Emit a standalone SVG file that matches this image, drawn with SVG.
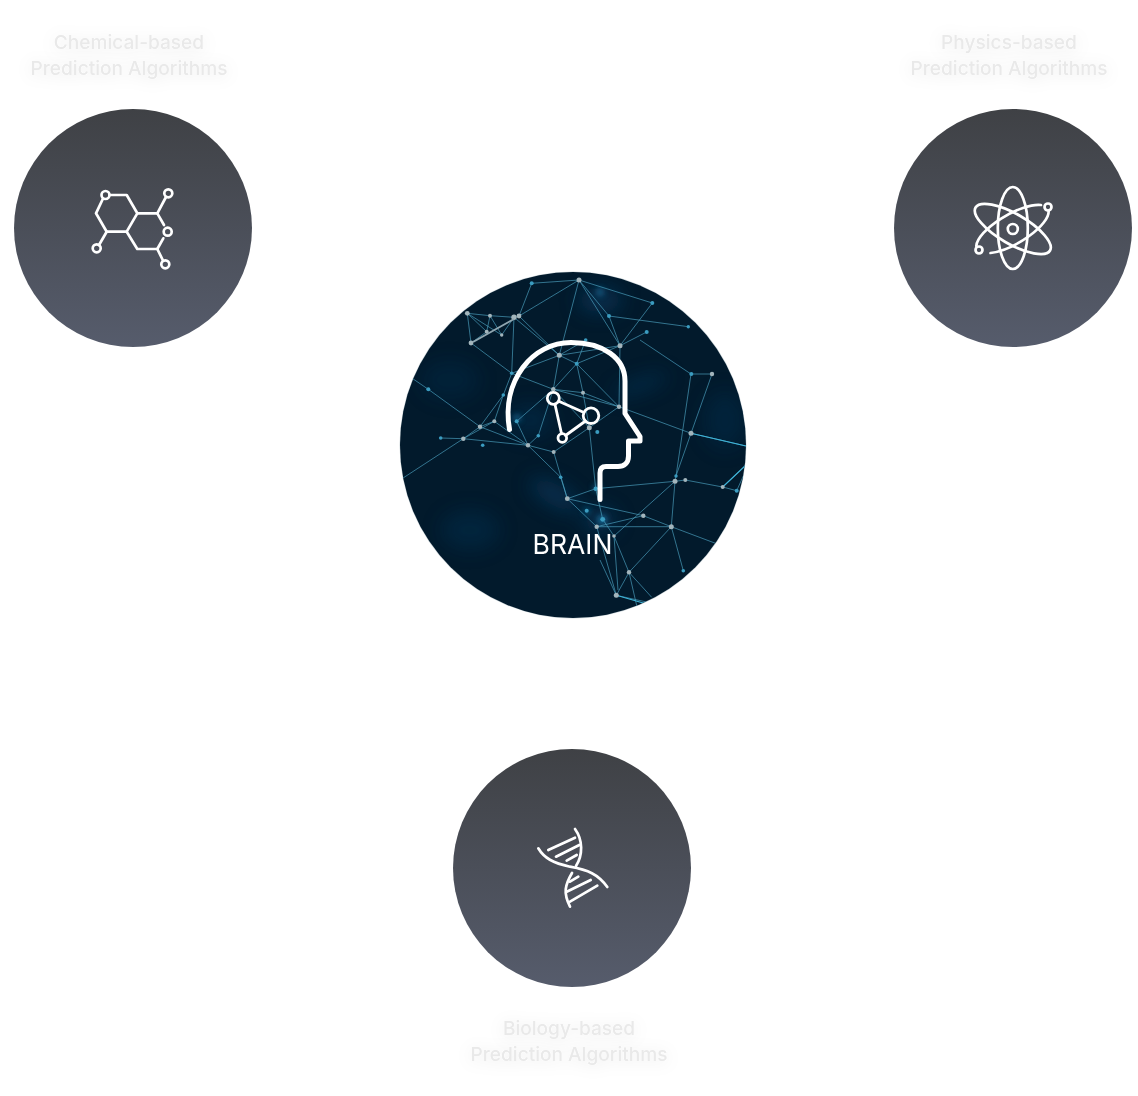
<svg xmlns="http://www.w3.org/2000/svg" width="1138" height="1096" viewBox="0 0 1138 1096">
<style>
.label{font-family:Inter,"Liberation Sans",sans-serif;font-size:19.1px;font-weight:500;fill:#e9e9e9;text-anchor:middle;filter:url(#halo)}
.icon{fill:none;stroke:#fff;stroke-width:2.7;stroke-linecap:round;stroke-linejoin:round}
.net{fill:none;stroke:#4fa6c4;stroke-width:.9;stroke-opacity:.72}
.dot{fill:#a3b5bc}
.dotb{fill:#3a9cc0}
</style>
<defs>
<linearGradient id="g" x1="0" y1="0" x2="0" y2="1"><stop offset="0" stop-color="#3f4145"/><stop offset="1" stop-color="#565c6c"/></linearGradient>
<filter id="halo" x="-25%" y="-80%" width="150%" height="260%"><feDropShadow dx="0" dy="2" stdDeviation="8" flood-color="#000" flood-opacity=".1"/></filter>
<filter id="b12" x="-50%" y="-50%" width="200%" height="200%"><feGaussianBlur stdDeviation="10"/></filter>
<filter id="b3" x="-100%" y="-100%" width="300%" height="300%"><feGaussianBlur stdDeviation="3"/></filter>
<filter id="b05"><feGaussianBlur stdDeviation=".3"/></filter>
<clipPath id="cc"><circle cx="573" cy="445" r="173"/></clipPath>
</defs>

<g id="connectors"></g>

<g id="node-chemical">
<circle cx="133" cy="228" r="119" fill="url(#g)"/>
<g class="icon">
<circle cx="105.500" cy="195" r="4"/><circle cx="168.300" cy="193.300" r="4"/><circle cx="167.700" cy="231.700" r="4"/><circle cx="165.300" cy="264.300" r="4"/><circle cx="96.700" cy="248.300" r="4"/>
<path d="M109.500 195H126.700L137.300 213.300L126.700 231.700H106.700L96 213.300L102.800 199"/>
<path d="M137.300 213.300H157.300L164 225M163.300 238.300L157.300 249H137.300L126.700 231.700"/>
<path d="M157.300 213.300L166 197"/><path d="M157.300 249L163 260.500"/><path d="M106.700 231.700L99 245"/>
</g>
<text class="label" x="129" y="49">Chemical-based</text>
<text class="label" x="129" y="75">Prediction Algorithms</text>
</g>

<g id="node-physics">
<circle cx="1013" cy="228" r="119" fill="url(#g)"/>
<g class="icon">
<circle cx="1012.800" cy="229" r="5"/>
<ellipse cx="1012.800" cy="228" rx="15" ry="41"/>
<ellipse cx="1012.800" cy="229" rx="43" ry="15" transform="rotate(30 1012.800 229)"/>
<path d="M1041 205A41 15 -30 0 0 976.300 246M1048.600 211A41 15 -30 0 1 990.500 253"/>
<circle cx="1048" cy="207" r="3.500"/><circle cx="979" cy="250" r="3.500"/>
</g>
<text class="label" x="1009" y="49">Physics-based</text>
<text class="label" x="1009" y="75">Prediction Algorithms</text>
</g>

<g id="node-biology">
<circle cx="572" cy="868" r="119" fill="url(#g)"/>
<g class="icon">
<path d="M538.300 848.300C544 858 553 863 570 866.700C588 870 598 874 607.300 887"/>
<path d="M575 829C583 840 583 855 576 866"/>
<path d="M572 873C565 885 563 893 570 906.700"/>
<path d="M548.300 850L575 837.700M556 856.700L579.300 845M566.700 860.700L576.700 855"/>
<path d="M570 881.700L578.300 876.700M566.700 891.700L590.700 880M570 901.700L597.300 885.700"/>
</g>
<text class="label" x="569" y="1035">Biology-based</text>
<text class="label" x="569" y="1061">Prediction Algorithms</text>
</g>

<g id="node-brain">
<circle cx="573" cy="445" r="173.500" fill="#cfd8dc"/>
<g clip-path="url(#cc)">
<rect x="395" y="267" width="356" height="356" fill="#021a2c"/>
<g filter="url(#b12)" fill="#0a4470" opacity=".55">
<ellipse cx="470" cy="530" rx="30" ry="20" opacity=".45"/>
<ellipse cx="555" cy="495" rx="28" ry="10" transform="rotate(30 555 495)"/>
<ellipse cx="640" cy="385" rx="30" ry="5" transform="rotate(-20 640 385)"/>
<ellipse cx="600" cy="300" rx="22" ry="12"/>
<ellipse cx="450" cy="380" rx="30" ry="20" opacity=".35"/>
<ellipse cx="725" cy="420" rx="22" ry="30" opacity=".4"/>
<ellipse cx="600" cy="520" rx="16" ry="12"/>
<ellipse cx="530" cy="420" rx="24" ry="16" opacity=".5"/>
</g>
<g filter="url(#b3)" fill="#1d7fb0">
<circle cx="602" cy="520" r="4"/><circle cx="600" cy="292" r="3"/><circle cx="517" cy="418" r="3"/>
<circle cx="597" cy="488" r="3"/><circle cx="587" cy="511" r="2.500"/>
</g>
<g filter="url(#b05)">
<path class="net" d="M467.300 313.300L490 315.700L514 317.300L519 316L579 280L652.300 303L620 345.700L579 280L559.300 355.300L514 317.300L511.700 373.300L471 343L467.300 313.300L501.700 335L514 317.300M467.300 313.300L486.700 331.700L490 315.700L501.700 335M471 343L486.700 331.700M519 316L559.300 355.300L620 345.700L609 316L579 280M531.700 283.300L519 316M531.700 283.300L579 280M559.300 355.300L553.300 389.300L576.700 363.700L559.300 355.300L511.700 373.300L553.300 389.300L583 392.700L619 406.700L576.700 363.700L620 345.700L646.700 332M585.700 340L559.300 355.300M585.700 340L576.700 363.700L583 392.700L589.300 427.700L619 406.700L620 345.700M553.300 389.300L619 406.700M553.300 389.300L589.300 427.700M511.700 373.300L503.300 395L480 426.700L463.300 438.700L440.700 438M503.300 395L494.300 421.300L480 426.700M428.300 389.300L480 426.700L528 445.300L553.700 452M463.300 438.700L494.300 421.300L528 445.300L516.700 421.300L553.300 389.300M463.300 438.700L528 445.300M463.300 438.700L400 480M528 445.300L538.300 435.700L553.300 389.300M528 445.300L560.700 477.300L567.300 498.700L596.700 526.700M553.700 452L567.300 498.700L595.700 488.700L589.300 427.700M553.700 452L589.300 427.700M567.300 498.700L643.300 515.700L596.700 526.700L671.300 526.700L643.300 515.700M595.700 488.700L602.700 519.300L614 536L629 572.300L671.300 526.700L683.300 570.700M596.700 526.700L616.300 595.300L629 572.300L651.700 597.300M671.300 526.700L675 481.300L676 476L691 433.300L746 446M675 481.300L685.300 480L722.700 487L736.700 490.700L746 470M675 481.300L614 536M676 476L691 374L712 374L691 433.300M691 374L640 340M619 406.700L691 433.300M616.300 595.300L660 605M671.300 526.700L720 545M595.700 488.700L675 481.300M722.700 487L746 465M609 316L688.300 326.700M629 572.300L640 620M616.300 595.300L600 560M614 536L618 590M428.300 389.300L400 370"/>
<path d="M691 433.300L746 446M722.700 487L746 465M616.300 595.300L650 605" fill="none" stroke="#3fb4d8" stroke-width="1.100"/>
<g class="dot">
<circle cx="467.300" cy="313.300" r="2.400"/><circle cx="490" cy="315.700" r="2"/><circle cx="514" cy="317.300" r="2.700"/><circle cx="519" cy="316" r="2.400"/><circle cx="471" cy="343" r="2.400"/><circle cx="486.700" cy="331.700" r="2"/><circle cx="501.700" cy="335" r="1.700"/><circle cx="579" cy="280" r="2.500"/><circle cx="559.300" cy="355.300" r="2.500"/><circle cx="620" cy="345.700" r="2.500"/><circle cx="553.300" cy="389.300" r="2.200"/><circle cx="583" cy="392.700" r="2"/><circle cx="619" cy="406.700" r="2.200"/><circle cx="480" cy="426.700" r="2.200"/><circle cx="494.300" cy="421.300" r="2"/><circle cx="463.300" cy="438.700" r="2.200"/><circle cx="528" cy="445.300" r="2.200"/><circle cx="553.700" cy="452" r="2"/><circle cx="589.300" cy="427.700" r="2.500"/><circle cx="567.300" cy="498.700" r="2.400"/><circle cx="596.700" cy="526.700" r="2.200"/><circle cx="643.300" cy="515.700" r="2.200"/><circle cx="671.300" cy="526.700" r="2.500"/><circle cx="675" cy="481.300" r="2.500"/><circle cx="685.300" cy="480" r="2"/><circle cx="722.700" cy="487" r="2"/><circle cx="691" cy="433.300" r="2.500"/><circle cx="712" cy="374" r="2.200"/><circle cx="629" cy="572.300" r="2.200"/><circle cx="616.300" cy="595.300" r="2.500"/><circle cx="614" cy="536" r="1.800"/>
</g>
<g class="dotb">
<circle cx="531.700" cy="283.300" r="2"/><circle cx="652.300" cy="303" r="2"/><circle cx="609" cy="316" r="2"/><circle cx="646.700" cy="332" r="2"/><circle cx="576.700" cy="363.700" r="2"/><circle cx="585.700" cy="340" r="1.800"/><circle cx="511.700" cy="373.300" r="1.800"/><circle cx="503.300" cy="395" r="1.800"/><circle cx="428.300" cy="389.300" r="2"/><circle cx="440.700" cy="438" r="1.800"/><circle cx="482.700" cy="445.300" r="1.800"/><circle cx="516.700" cy="421.300" r="2"/><circle cx="538.300" cy="435.700" r="1.800"/><circle cx="597.300" cy="432" r="2"/><circle cx="560.700" cy="477.300" r="1.800"/><circle cx="595.700" cy="488.700" r="2.200"/><circle cx="586.700" cy="510.700" r="2"/><circle cx="602.700" cy="519.300" r="2.400"/><circle cx="676" cy="476" r="1.700"/><circle cx="736.700" cy="490.700" r="2"/><circle cx="691.300" cy="374" r="2"/><circle cx="683.300" cy="570.700" r="1.800"/><circle cx="688.300" cy="326.700" r="1.700"/>
</g>
<path d="M473 342L514 319" stroke="#8fa6b0" stroke-width="2" fill="none"/>
</g>
</g>
<g fill="none" stroke="#fff" stroke-linecap="round" stroke-linejoin="round">
<path stroke-width="5" d="M509.500 429.500C501 380 533 342.500 571 342.500C603 342.500 625 358 625 381V413.500L640 436.500V441H628.500V456C628.500 463 624 466.500 618 466.500H606C602 466.500 600 469 600 473V499.500"/>
<g stroke-width="2.800">
<path d="M558.800 401.300L584 412.500M555 404.500L561.500 433.500M565.500 435.500L585.500 421"/>
<circle cx="553.300" cy="398.300" r="6"/><circle cx="591" cy="415.700" r="7.800"/><circle cx="562.300" cy="438" r="4.300"/>
</g>
</g>
<text x="572.500" y="553.500" font-family="Inter,'Liberation Sans',sans-serif" font-size="26.500" fill="#fff" text-anchor="middle">BRAIN</text>
</g>
</svg>
